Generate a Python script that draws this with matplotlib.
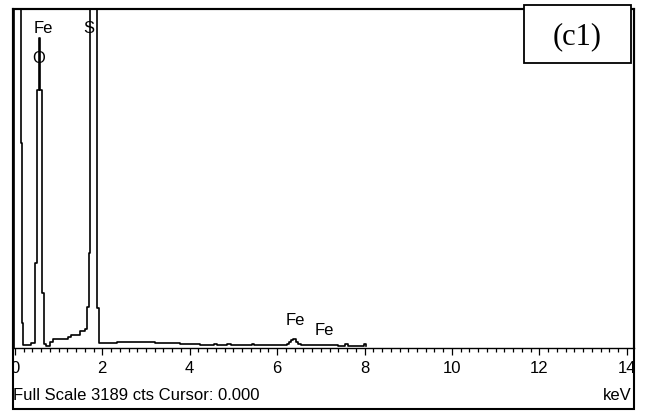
import matplotlib
matplotlib.use("Agg")
import matplotlib.pyplot as plt
from matplotlib.ticker import MultipleLocator
from matplotlib.transforms import Bbox, TransformedBbox

# EDS spectrum outline (channel start in keV, counts)
energy_kev = [-0.04, -0.03, 0.13, 0.16, 0.19, 0.37, 0.45, 0.465, 0.497, 0.549,
              0.572, 0.618, 0.657, 0.71, 0.80, 0.87, 1.21, 1.28, 1.49, 1.60,
              1.65, 1.69, 1.72, 1.87, 1.89, 1.93, 2.33, 3.20, 3.78, 4.23,
              4.55, 4.62, 4.85, 4.95, 5.42, 5.47, 6.22, 6.27, 6.32, 6.36,
              6.43, 6.48, 6.54, 7.39, 7.55, 7.62, 7.98, 8.04]
counts = [0, 8000, 1930, 235, 28, 47, 169, 800, 2427, 2916,
          2427, 517, 38, 19, 56, 85, 103, 122, 160, 179,
          386, 894, 8000, 762, 376, 47, 61, 50, 38, 28,
          38, 28, 38, 28, 38, 28, 38, 56, 75, 89,
          60, 40, 28, 19, 38, 19, 38, 19]

full_scale = 3189
peak_names = ["Fe", "O", "S", "Fe", "Fe"]
peak_energy = [0.66, 0.55, 1.69, 6.41, 7.07]

W, H = 646, 412
fig = plt.figure(figsize=(W / 100, H / 100), dpi=100)
plt.rcParams['font.family'] = ['Liberation Sans', 'DejaVu Sans']

# frame edges in pixels
fx0, fx1, fy_top, fy_bot = 12.7, 634, 9, 409
axis_y = 348

ax = fig.add_axes([fx0 / W, (H - axis_y) / H, (fx1 - fx0) / W, (axis_y - fy_top) / H])
ax.plot(energy_kev, counts, drawstyle='steps-post', color='black', lw=1.2)
ax.set_xlim(-0.05, 14.165)
ax.set_ylim(0, full_scale)
ax.set_yticks([])
ax.set_xticks(range(0, 15, 2))
ax.xaxis.set_minor_locator(MultipleLocator(0.2))
ax.tick_params(axis='x', which='major', length=5, width=0.9, pad=4.5,
               labelsize=12, direction='out')
ax.tick_params(axis='x', which='minor', length=3.2, width=0.9, direction='out')
for s in ['left', 'right', 'top']:
    ax.spines[s].set_linewidth(1.5)
ax.spines['bottom'].set_linewidth(1.0)

# peak labels
label_y = [3010, 2728, 3010, 254, 169]
for name, e, y in zip(peak_names, peak_energy, label_y):
    ax.text(e, y, name, fontsize=12, ha='center', va='center', clip_on=False)

# outer frame around plot and footer
frame = plt.Rectangle((fx0 / W, (H - fy_bot) / H), (fx1 - fx0) / W, (fy_bot - fy_top) / H,
                      transform=fig.transFigure, fill=False, lw=1.5, edgecolor='black')
fig.patches.append(frame)

clip = TransformedBbox(Bbox.from_extents(fx0 / W, (H - fy_bot) / H, fx1 / W, (H - fy_top) / H),
                       fig.transFigure)
for t in ax.xaxis.get_major_ticks():
    t.label1.set_clip_box(clip)
    t.label1.set_clip_on(True)

fig.text(13.5 / W, (H - 395) / H, "Full Scale 3189 cts Cursor: 0.000",
         fontsize=12, ha='left', va='center')
fig.text(632 / W, (H - 396) / H, "keV", fontsize=12, ha='right', va='center')

# panel tag box
fig.text(577 / W, (H - 37) / H, "(c1)", fontsize=22, family='Liberation Serif',
         ha='center', va='center')
tag = plt.Rectangle((524 / W, (H - 63) / H), (630.7 - 524) / W, (63 - 5) / H,
                    transform=fig.transFigure, facecolor='white', edgecolor='black', lw=1.3,
                    zorder=5)
fig.patches.append(tag)
fig.texts[-1].set_zorder(6)

fig.savefig("out.png", dpi=100)
